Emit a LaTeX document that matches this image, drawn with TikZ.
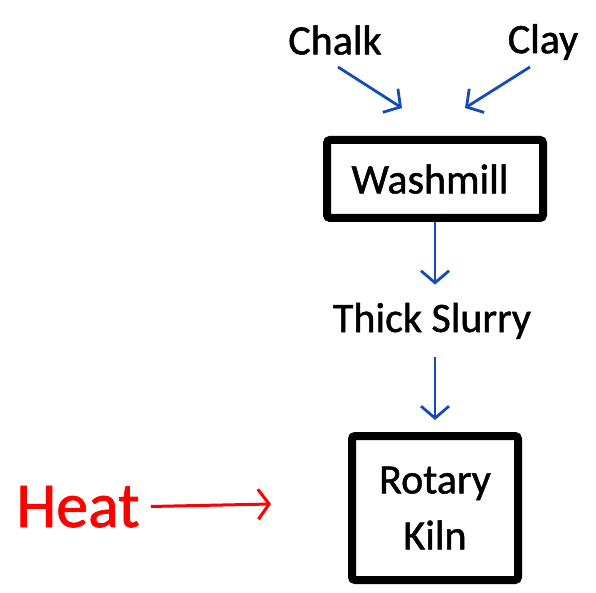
\documentclass[tikz,border=0pt]{standalone}
\usepackage{fontspec}
\setmainfont{Carlito}[FakeBold=1.2]
\usetikzlibrary{arrows.meta, positioning}

\definecolor{flowblue}{RGB}{20,75,185}

\begin{document}
\begin{tikzpicture}[
    x=1pt, y=-1pt,
    label/.style={inner sep=0pt, font=\fontsize{42}{56}\selectfont},
    box/.style={draw, line width=8pt, rounded corners=3pt, align=center,
                font=\fontsize{42}{56}\selectfont, inner sep=0pt},
    flow/.style={draw=flowblue, line width=2.8pt, -{Straight Barb[length=12pt, width=28pt]}},
    hot/.style={draw=red, line width=3pt, -{Straight Barb[length=11pt, width=30pt]}}
]
\useasboundingbox (0,0) rectangle (596,593);

\node[label] (chalk) at (335,40) {Chalk};
\node[label] (clay) at (543,42) {Clay};

\node[box, minimum width=216pt, minimum height=78pt] (wash) at (435,179) {Washmill\hspace*{10pt}};
\node[label, anchor=base, inner ysep=18pt] (slurry) at (432,332) {Thick Slurry};
\node[box, minimum width=166pt, minimum height=144pt] (kiln) at (435,508) {Rotary\\Kiln};

\node[label, anchor=base, text=red, font=\fontsize{64}{70}\selectfont] (heat) at (78,527) {Heat};

\coordinate (chalkout) at (338,67);
\coordinate (chalkin) at (402,108);
\coordinate (clayout) at (530,67);
\coordinate (clayin) at (465,108);
\coordinate (heatin) at (271,504);

\draw[flow] (chalkout) -- (chalkin);
\draw[flow] (clayout) -- (clayin);
\draw[flow] (wash) -- (wash |- slurry.north);
\draw[flow, shorten >=12pt] (kiln |- slurry.south) -- (kiln);
\draw[hot, shorten <=11pt] (heat.east) -- (heatin);
\end{tikzpicture}
\end{document}
